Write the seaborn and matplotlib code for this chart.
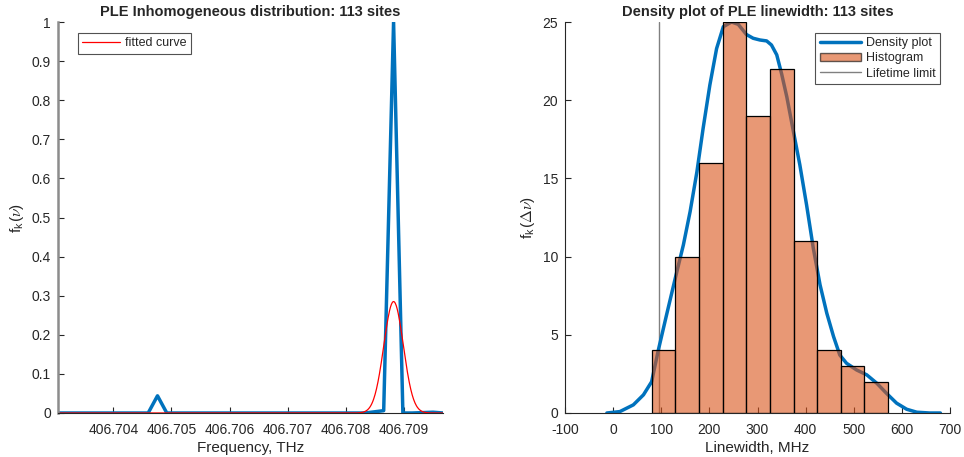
import numpy as np
import pandas as pd
import matplotlib
matplotlib.use("Agg")
import matplotlib.pyplot as plt
from matplotlib.lines import Line2D
from matplotlib.patches import Patch
import seaborn as sns

# ---- left panel: PLE inhomogeneous distribution ----
freq_thz = [406.70305, 406.70460, 406.70476, 406.70492, 406.70833, 406.70849,
            406.70865, 406.70882, 406.70898, 406.70914, 406.70950, 406.70967]
ple_norm = [0.0, 0.0, 0.044, 0.0, 0.0, 0.003, 0.006, 1.0, 0.0, 0.0, 0.002, 0.0]

# fitted gaussian parameters (amplitude, centre THz, sigma THz)
fit_amp = 0.285
fit_center = 406.70882
fit_sigma = 0.000168

# ---- right panel: linewidth histogram + density ----
bin_edges = [80, 129, 178.5, 228, 277, 326, 375, 424, 473, 522, 571]
bin_counts = [4, 10, 16, 25, 19, 22, 11, 4, 3, 2]

dens_x = [-13, 14, 42, 63, 80, 94, 111, 129, 146, 160, 174, 187, 201, 215, 229,
          246, 260, 277, 291, 305, 319, 329, 340, 350, 361, 374, 388, 402, 416,
          430, 444, 458, 471, 485, 506, 527, 548, 568, 589, 610, 631, 658, 680]
dens_y = [0.0, 0.09, 0.52, 1.16, 2.0, 4.03, 6.27, 8.6, 10.75, 12.88, 15.4, 18.2,
          20.97, 23.3, 24.7, 25.0, 24.85, 24.2, 23.96, 23.85, 23.79, 23.53, 22.9,
          21.7, 20.2, 18.1, 15.86, 13.3, 10.53, 8.19, 6.38, 4.89, 3.71, 3.18, 2.75,
          2.44, 1.9, 1.26, 0.63, 0.24, 0.05, 0.0, 0.0]

lifetime_limit = 95

sns.set_theme(style="white")
plt.rcParams["font.family"] = ["Liberation Sans", "DejaVu Sans"]
plt.rcParams["mathtext.fontset"] = "cm"
plt.rcParams["axes.unicode_minus"] = False

BLUE = "#0072BD"
ORANGE = "#D95319"
AXC = "#262626"

fig = plt.figure(figsize=(9.64, 4.57), dpi=100)
ax1 = fig.add_axes([58 / 964, 44 / 457, 385 / 964, 391 / 457])
ax2 = fig.add_axes([565 / 964, 44 / 457, 385 / 964, 391 / 457])

# left panel
fine_f = np.linspace(freq_thz[0], freq_thz[-1], 800)
fit_df = pd.DataFrame({"f": fine_f,
                       "v": fit_amp * np.exp(-0.5 * ((fine_f - fit_center) / fit_sigma) ** 2)})
ple_df = pd.DataFrame({"f": freq_thz, "v": ple_norm})
sns.lineplot(data=ple_df, x="f", y="v", ax=ax1, color=BLUE, lw=2.5, sort=False)
sns.lineplot(data=fit_df, x="f", y="v", ax=ax1, color="red", lw=0.9, label="fitted curve")

ax1.set_xlim(406.703049, 406.70967)
ax1.set_ylim(0, 1)
ax1.set_xticks([406.704, 406.705, 406.706, 406.707, 406.708, 406.709])
ax1.set_xticklabels(["406.704", "406.705", "406.706", "406.707", "406.708", "406.709"])
ax1.set_yticks(np.arange(0, 11) / 10)
ax1.set_yticklabels(["0", "0.1", "0.2", "0.3", "0.4", "0.5", "0.6", "0.7", "0.8", "0.9", "1"])
ax1.set_xlabel("Frequency, THz", fontsize=11, color=AXC, labelpad=3)
ax1.set_ylabel(r"f$_\mathregular{k}$($\nu$)", fontsize=11, color=AXC)
ax1.set_title("PLE Inhomogeneous distribution: 113 sites", fontsize=10.5, fontweight="bold", pad=4)
leg1 = ax1.legend(loc="upper left", bbox_to_anchor=(0.052, 0.972), borderaxespad=0,
                  fontsize=9, frameon=True, fancybox=False, borderpad=0.35,
                  handlelength=3.0, handletextpad=0.4)
leg1.get_frame().set_edgecolor(AXC)
leg1.get_frame().set_linewidth(0.8)

# right panel: density curve sits beneath the translucent bars
sns.lineplot(x=dens_x, y=dens_y, ax=ax2, color=BLUE, lw=2.5, sort=False, zorder=1)
centers = [(a + b) / 2 for a, b in zip(bin_edges[:-1], bin_edges[1:])]
sns.histplot(x=centers, weights=bin_counts, bins=bin_edges, ax=ax2, color=ORANGE,
             alpha=0.6, edgecolor="black", linewidth=0.9, zorder=2)
ax2.axvline(lifetime_limit, color="#808080", lw=1.0, zorder=0.5)

ax2.set_xlim(-100, 700)
ax2.set_ylim(0, 25)
ax2.set_xticks(range(-100, 701, 100))
ax2.set_yticks(range(0, 26, 5))
ax2.set_xlabel("Linewidth, MHz", fontsize=11, color=AXC, labelpad=3)
ax2.set_ylabel(r"f$_\mathregular{k}$($\Delta\nu$)", fontsize=11, color=AXC)
ax2.set_title("Density plot of PLE linewidth: 113 sites", fontsize=10.5, fontweight="bold", pad=4)
handles = [Line2D([0], [0], color=BLUE, lw=2.5),
           Patch(facecolor=ORANGE, alpha=0.6, edgecolor="black"),
           Line2D([0], [0], color="#808080", lw=1.0)]
leg2 = ax2.legend(handles, ["Density plot", "Histogram", "Lifetime limit"], loc="upper right",
                  bbox_to_anchor=(0.974, 0.972), borderaxespad=0, fontsize=9, frameon=True,
                  fancybox=False, borderpad=0.35, handlelength=3.3, handletextpad=0.4,
                  labelspacing=0.25)
leg2.get_frame().set_edgecolor(AXC)
leg2.get_frame().set_linewidth(0.8)

for ax in (ax1, ax2):
    for s in ("top", "right"):
        ax.spines[s].set_visible(False)
    for s in ("left", "bottom"):
        ax.spines[s].set_color(AXC)
        ax.spines[s].set_linewidth(0.8)
    ax.tick_params(direction="in", length=4, width=0.8, colors=AXC, labelsize=10,
                   bottom=True, left=True)
    ax.tick_params(axis="x", pad=7)
    ax.tick_params(axis="y", pad=5)
    ax.set_facecolor("white")

ax1.spines["left"].set_color("#8c8c8c")
ax1.spines["left"].set_linewidth(1.8)

fig.savefig("out.png", dpi=100, facecolor="white")
